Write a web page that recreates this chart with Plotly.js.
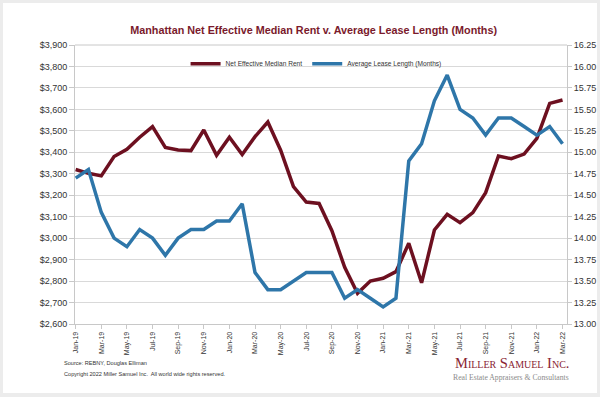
<!DOCTYPE html>
<html>
<head>
<meta charset="utf-8">
<script src="https://cdn.plot.ly/plotly-3.0.1.min.js"></script>
<style>
  html, body { margin: 0; padding: 0; background: #ececec; width: 600px; height: 397px; overflow: hidden; }
  #card { position: absolute; left: 3px; top: 3px; width: 594px; height: 390px; background: #ffffff; }
  #chart { width: 594px; height: 390px; }
</style>
</head>
<body>
<div id="card"><div id="chart"></div></div>
<script>
var months = ["Jan-19","Feb-19","Mar-19","Apr-19","May-19","Jun-19","Jul-19","Aug-19","Sep-19","Oct-19","Nov-19","Dec-19",
              "Jan-20","Feb-20","Mar-20","Apr-20","May-20","Jun-20","Jul-20","Aug-20","Sep-20","Oct-20","Nov-20","Dec-20",
              "Jan-21","Feb-21","Mar-21","Apr-21","May-21","Jun-21","Jul-21","Aug-21","Sep-21","Oct-21","Nov-21","Dec-21",
              "Jan-22","Feb-22","Mar-22"];

var netEffectiveRent = [3320,3302,3290,3380,3414,3470,3520,3423,3411,3408,3504,3386,
                        3470,3390,3473,3541,3410,3240,3168,3162,3035,2864,2743,2800,
                        2813,2844,2976,2792,3038,3111,3072,3119,3212,3383,3370,3392,
                        3465,3628,3644];

var avgLeaseLength = [14.70,14.80,14.30,14.00,13.90,14.10,14.00,13.80,14.00,14.10,14.10,14.20,
                      14.20,14.40,13.60,13.40,13.40,13.50,13.60,13.60,13.60,13.30,13.40,13.30,
                      13.20,13.30,14.90,15.10,15.60,15.90,15.50,15.40,15.20,15.40,15.40,15.30,
                      15.20,15.30,15.10];

var tickLabels = months.filter(function (m, i) { return i % 2 === 0; });

var rentColor = "#6d1020";
var leaseColor = "#2e76a9";
var axisGray = "#c8c8c8";
var textGray = "#333333";

var traces = [
  {
    x: months, y: netEffectiveRent, name: "Net Effective Median Rent",
    type: "scatter", mode: "lines", yaxis: "y",
    line: { color: rentColor, width: 3.5 }
  },
  {
    x: months, y: avgLeaseLength, name: "Average Lease Length (Months)",
    type: "scatter", mode: "lines", yaxis: "y2",
    line: { color: leaseColor, width: 3.5 }
  }
];

var layout = {
  width: 594, height: 390,
  margin: { l: 72, r: 30, t: 42, b: 69 },
  paper_bgcolor: "#ffffff",
  plot_bgcolor: "#ffffff",
  font: { family: "Liberation Sans, Arial, sans-serif", color: textGray },
  showlegend: true,
  title: {
    text: "Manhattan Net Effective Median Rent v. Average Lease Length (Months)",
    font: { family: "Liberation Sans, Arial, sans-serif", size: 10.8, color: "#7a1a2c", weight: "bold" },
    x: 0.523, xanchor: "center", y: 0.931, yanchor: "middle"
  },
  legend: {
    orientation: "h", x: 0.49, xanchor: "center", y: 0.985, yanchor: "top",
    font: { size: 6.6, color: textGray }, bgcolor: "rgba(0,0,0,0)",
    itemwidth: 30, tracegroupgap: 0
  },
  xaxis: {
    type: "category",
    range: [-0.05, 38.35],
    tickmode: "array", tickvals: tickLabels, ticktext: tickLabels,
    tickangle: -90, tickfont: { size: 7, color: textGray },
    ticks: "outside", ticklen: 4, tickcolor: axisGray,
    showline: true, linecolor: axisGray, linewidth: 1,
    showgrid: false, zeroline: false, fixedrange: true
  },
  yaxis: {
    range: [2600, 3900], dtick: 100, tick0: 2600,
    tickprefix: "$", tickformat: ",d",
    tickfont: { size: 9, color: textGray },
    ticks: "outside", ticklen: 5, tickcolor: axisGray,
    showline: true, linecolor: axisGray, linewidth: 1, mirror: false,
    showgrid: true, gridcolor: "#d9d9d9", gridwidth: 1,
    zeroline: false
  },
  yaxis2: {
    overlaying: "y", side: "right",
    range: [13.0, 16.25], dtick: 0.25, tick0: 13.0,
    tickformat: ".2f",
    tickfont: { size: 9, color: textGray },
    ticks: "outside", ticklen: 4, tickcolor: axisGray,
    showline: true, linecolor: axisGray, linewidth: 1,
    showgrid: false, zeroline: false
  },
  shapes: [
    { type: "line", xref: "paper", yref: "paper", x0: 0, x1: 1, y0: 1, y1: 1,
      line: { color: axisGray, width: 1 } }
  ],
  annotations: [
    { text: "Source: REBNY, Douglas Elliman", xref: "paper", yref: "paper",
      x: -0.026, y: -0.140, xanchor: "left", yanchor: "middle", showarrow: false,
      font: { size: 5.6, color: textGray } },
    { text: "Copyright 2022 Miller Samuel Inc.  All world wide rights reserved.", xref: "paper", yref: "paper",
      x: -0.026, y: -0.180, xanchor: "left", yanchor: "middle", showarrow: false,
      font: { size: 5.6, color: textGray } },
    { text: "Miller Samuel Inc.", xref: "paper", yref: "paper",
      x: 1.009, y: -0.140, xanchor: "right", yanchor: "middle", showarrow: false,
      font: { family: "Liberation Serif, DejaVu Serif, serif", size: 14.5, color: "#8a2433", variant: "small-caps" } },
    { text: "Real Estate Appraisers &amp; Consultants", xref: "paper", yref: "paper",
      x: 1.009, y: -0.190, xanchor: "right", yanchor: "middle", showarrow: false,
      font: { family: "Liberation Serif, DejaVu Serif, serif", size: 7.7, color: "#8a8a8a" } }
  ]
};

Plotly.newPlot("chart", traces, layout, { displayModeBar: false, staticPlot: true });
</script>
</body>
</html>
